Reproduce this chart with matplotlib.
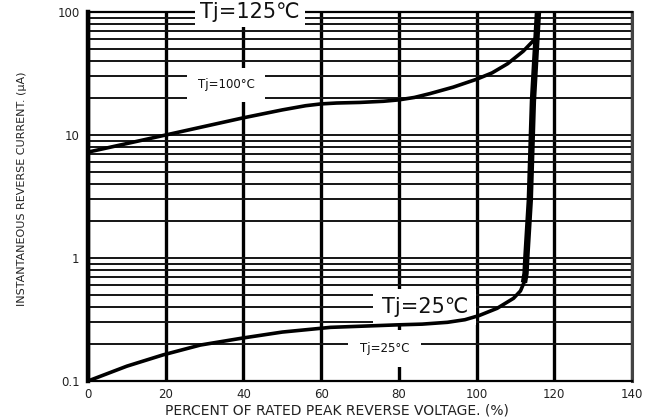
import matplotlib
matplotlib.use('Agg')
import matplotlib.pyplot as plt
from matplotlib.ticker import LogLocator, FixedLocator, FixedFormatter, NullFormatter

# ---- data ----
v100_pct = [0, 20, 40, 50, 56, 60, 64, 70, 76, 80, 84, 88, 94, 100, 104, 108, 112, 115.4]
v100_cur = [7.26, 10.0, 13.8, 16.0, 17.3, 17.9, 18.2, 18.4, 18.8, 19.3, 20.2, 21.7, 24.5,
            28.4, 32.0, 38.0, 48.0, 62.0]

v25_pct = [0, 10, 19.3, 28.9, 40, 50, 62.4, 79.6, 86, 92.5, 97, 100.6, 105.3, 109.5, 111.3,
           112.2, 112.6, 112.8, 113.7, 114.5, 115.8, 116.0]
v25_cur = [0.1, 0.132, 0.163, 0.196, 0.224, 0.25, 0.273, 0.286, 0.29, 0.30, 0.315, 0.34, 0.39,
           0.47, 0.54, 0.63, 0.75, 1.0, 2.95, 18.8, 100, 130]
spike_start = 15  # index where the breakdown knee begins

x_ticks = [0, 20, 40, 60, 80, 100, 120, 140]
x_ticklabels = ['0', '20', '40', '60', '80', '100', '120', '140']
y_ticks = [0.1, 1, 10, 100]
y_ticklabels = ['0.1', '1', '10', '100']

xlabel = 'PERCENT OF RATED PEAK REVERSE VOLTAGE. (%)'
ylabel = 'INSTANTANEOUS REVERSE CURRENT. (\u03bcA)'

W, H = 658, 420
fig = plt.figure(figsize=(W / 100, H / 100), dpi=100)
ax = fig.add_axes([88 / W, 1 - 381 / H, (632 - 88) / W, (381 - 12) / H])

ax.set_xscale('linear')
ax.set_yscale('log')
ax.set_xlim(0, 140)
ax.set_ylim(0.1, 100)

ax.xaxis.set_major_locator(FixedLocator(x_ticks))
ax.xaxis.set_major_formatter(FixedFormatter(x_ticklabels))
ax.yaxis.set_major_locator(FixedLocator(y_ticks))
ax.yaxis.set_major_formatter(FixedFormatter(y_ticklabels))
ax.yaxis.set_minor_locator(LogLocator(base=10, subs=[2, 3, 4, 5, 6, 7, 8, 9]))
ax.yaxis.set_minor_formatter(NullFormatter())

ax.tick_params(axis='both', which='both', length=0)
ax.tick_params(axis='x', pad=5, labelsize=8.5, labelcolor='#222222')
ax.tick_params(axis='y', pad=6, labelsize=8.5, labelcolor='#222222')

ax.grid(which='both', axis='y', color='#141414', lw=1.4)
ax.grid(which='major', axis='x', color='black', lw=2.4)

ax.spines['left'].set_linewidth(3.2)
ax.spines['bottom'].set_linewidth(1.6)
ax.spines['top'].set_linewidth(1.6)
ax.spines['right'].set_linewidth(2.2)
ax.spines['right'].set_color('#444444')

# curves
ax.plot(v100_pct, v100_cur, color='black', lw=2.6, zorder=4, solid_capstyle='butt')
ax.plot(v25_pct, v25_cur, color='black', lw=2.6, zorder=4, solid_capstyle='butt')
ax.plot(v25_pct[spike_start:], v25_cur[spike_start:], color='black', lw=4.6, zorder=4,
        solid_capstyle='butt')

# labels with white boxes
ax.text(41.7, 100, 'Tj=125\u2103', fontsize=15, ha='center', va='center', color='#111111',
        zorder=3.5, clip_on=False,
        bbox=dict(boxstyle='square,pad=0.25', fc='white', ec='none'))
ax.text(35.5, 25.6, 'Tj=100\u00b0C', fontsize=8.5, ha='center', va='center', color='#111111',
        zorder=3.5, bbox=dict(boxstyle='square,pad=0.9', fc='white', ec='none'))
ax.text(86.7, 0.40, 'Tj=25\u2103', fontsize=15, ha='center', va='center', color='#111111',
        zorder=3.5, bbox=dict(boxstyle='square,pad=0.4', fc='white', ec='none'))
ax.text(76.4, 0.1845, 'Tj=25\u00b0C', fontsize=8.5, ha='center', va='center', color='#111111',
        zorder=3.5, bbox=dict(boxstyle='square,pad=1.0', fc='white', ec='none'))

fig.text(336.5 / W, 1 - 410 / H, xlabel, ha='center', va='center', fontsize=10,
         color='#222222')
fig.text(22 / W, 1 - 189 / H, ylabel, ha='center', va='center', rotation=90, fontsize=8,
         color='#222222')

fig.savefig('out.png', dpi=100)
